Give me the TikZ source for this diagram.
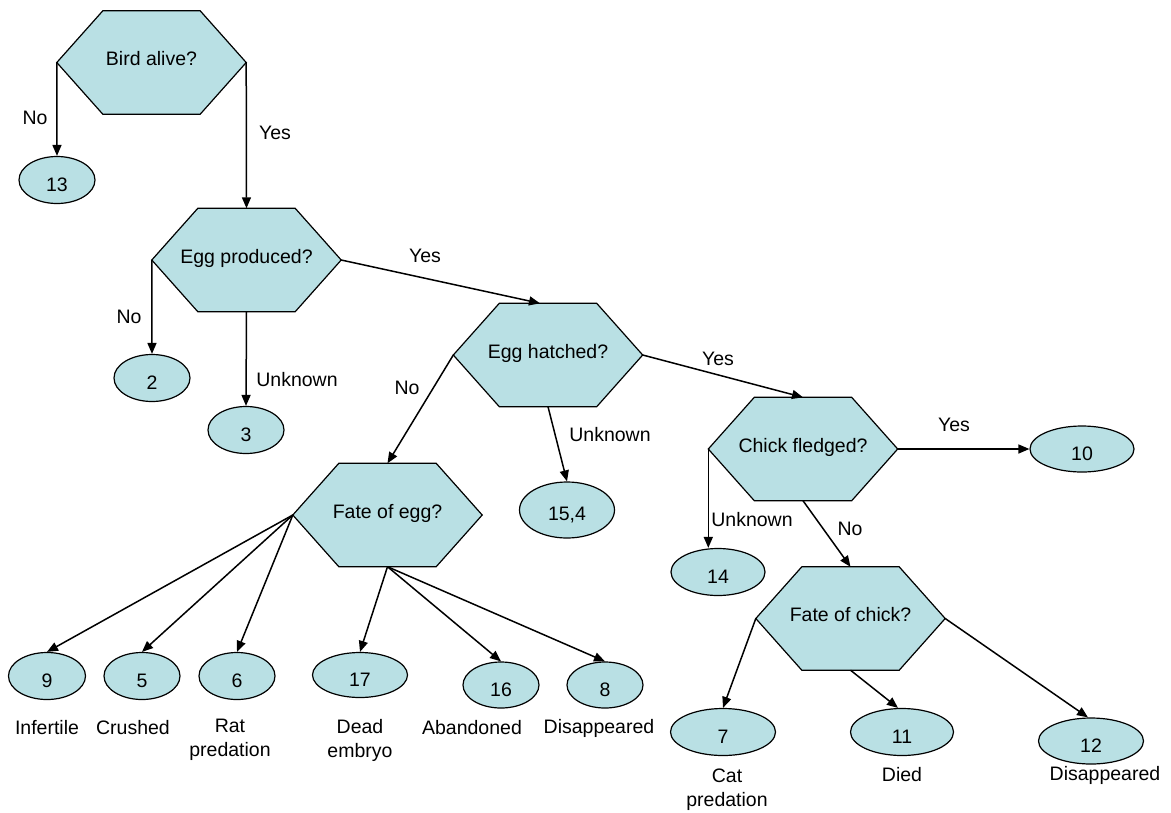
\documentclass[tikz,border=0pt]{standalone}
\usepackage{fontspec}
\setmainfont{Liberation Sans}
\usetikzlibrary{shapes.geometric,arrows.meta,backgrounds}
\definecolor{shapefill}{RGB}{185,224,228}
\tikzset{
  hexbox/.style={minimum width=189pt, minimum height=103pt, inner sep=0pt, text height=14pt, text depth=8pt},
  hexline/.style={draw=black, line width=1.2pt, fill=shapefill, line join=miter},
  ovalbox/.style={ellipse, draw=black, line width=1.2pt, fill=shapefill, inner sep=0pt, text height=22pt, text depth=0pt},
  lbl/.style={inner sep=0pt},
  conn/.style={draw=black, line width=1.5pt, -{Triangle[length=11pt,width=9pt]}},
}
\begin{document}
\begin{tikzpicture}[x=1pt,y=-1pt,font=\fontsize{19.5}{24}\selectfont]
\begin{pgfonlayer}{background}
\fill[white] (0,0) rectangle (1171,812);
\end{pgfonlayer}
\useasboundingbox (0,0) rectangle (1171,812);
% hexagon decision nodes
\node[hexbox] (h1) at (151.5,62.5) {Bird alive?};
\node[hexbox] (h2) at (246.5,260) {Egg produced?};
\node[hexbox] (h3) at (548,355) {Egg hatched?};
\node[hexbox] (h4) at (387.5,515) {Fate of egg?};
\node[hexbox] (h5) at (803,449) {Chick fledged?};
\node[hexbox] (h6) at (850.5,618.5) {Fate of chick?};
\begin{pgfonlayer}{background}
\foreach \n in {h1,h2,h3,h4,h5,h6}{
  \path[hexline] (\n.west) -- ([xshift=46pt]\n.north west) -- ([xshift=-46pt]\n.north east) -- (\n.east) -- ([xshift=-46pt]\n.south east) -- ([xshift=46pt]\n.south west) -- cycle;
}
\end{pgfonlayer}
% outcome ellipses
\node[ovalbox, minimum width=76pt, minimum height=47pt] (e13) at (57,180) {13};
\node[ovalbox, minimum width=76pt, minimum height=47pt] (e2) at (152,378) {2};
\node[ovalbox, minimum width=76pt, minimum height=47pt] (e3) at (246,430) {3};
\node[ovalbox, minimum width=95pt, minimum height=56pt, text height=21pt] (e154) at (567,510) {15,4};
\node[ovalbox, minimum width=94pt, minimum height=47pt] (e14) at (718,572) {14};
\node[ovalbox, minimum width=104pt, minimum height=46pt] (e10) at (1082,449) {10};
\node[ovalbox, minimum width=105pt, minimum height=47pt] (e7) at (723,732) {7};
\node[ovalbox, minimum width=103pt, minimum height=47pt] (e11) at (902,732) {11};
\node[ovalbox, minimum width=105pt, minimum height=46pt] (e12) at (1091,741) {12};
\node[ovalbox, minimum width=77pt, minimum height=47pt] (e9) at (47,676) {9};
\node[ovalbox, minimum width=76pt, minimum height=47pt] (e5) at (142,676) {5};
\node[ovalbox, minimum width=76pt, minimum height=47pt] (e6) at (237,676) {6};
\node[ovalbox, minimum width=95pt, minimum height=45pt] (e17) at (360,675) {17};
\node[ovalbox, minimum width=76pt, minimum height=46pt] (e16) at (501,685) {16};
\node[ovalbox, minimum width=76pt, minimum height=46pt] (e8) at (605,685) {8};
% connectors
\draw[conn] (h1.west) -- (e13.north);
\draw[conn] (h1.east) -- (h2.north);
\draw[conn] (h2.west) -- (e2.north);
\draw[conn] (h2.south) -- (e3.north);
\draw[conn] (h2.east) -- ([xshift=-8pt]h3.north);
\draw[conn] (h3.west) -- (h4.north);
\draw[conn] (h3.south) -- (e154.north);
\draw[conn] (h3.east) -- (h5.north);
\draw[conn] (h5.west) -- (h5.west |- e14.north);
\draw[conn] (h5.south) -- (h6.north);
\draw[conn] (h5.east) -- (e10.west);
\draw[conn] (h6.west) -- (e7.north);
\draw[conn] (h6.south) -- ([xshift=-4pt]e11.north);
\draw[conn] (h6.east) -- ([xshift=-3pt]e12.north);
\draw[conn] (h4.west) -- (e9.north);
\draw[conn] (h4.west) -- (e5.north);
\draw[conn] (h4.west) -- (e6.north);
\draw[conn] (h4.south) -- (e17.north);
\draw[conn] (h4.south) -- (e16.north);
\draw[conn] (h4.south) -- (e8.north);
% connector labels
\node[lbl] (l1) at (35,118) {No};
\node[lbl] (l2) at (275,133) {Yes};
\node[lbl] (l3) at (129,317) {No};
\node[lbl] (l4) at (297,380) {Unknown};
\node[lbl] (l5) at (425,256) {Yes};
\node[lbl] (l6) at (407,388) {No};
\node[lbl] (l7) at (610,435) {Unknown};
\node[lbl] (l8) at (718,359) {Yes};
\node[lbl] (l9) at (752,520) {Unknown};
\node[lbl] (l10) at (850,529) {No};
\node[lbl] (l11) at (954,425) {Yes};
% outcome labels
\node[lbl] (t9) at (47,728) {Infertile};
\node[lbl] (t5) at (133,728) {Crushed};
\node[lbl, align=center] (t6) at (230,740) {Rat\\predation};
\node[lbl, align=center] (t17) at (360,740) {Dead\\embryo};
\node[lbl] (t16) at (472,728) {Abandoned};
\node[lbl] (t8) at (599,728) {Disappeared};
\node[lbl, align=center] (t7) at (727,790) {Cat\\predation};
\node[lbl] (t11) at (902,775) {Died};
\node[lbl] (t12) at (1105,775) {Disappeared};
\end{tikzpicture}
\end{document}
